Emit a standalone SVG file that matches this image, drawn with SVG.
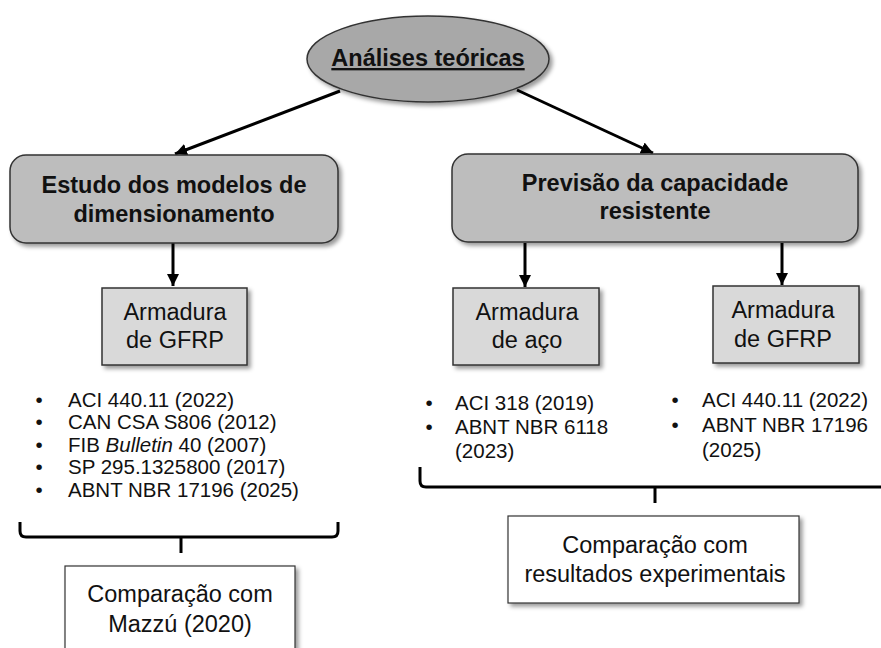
<svg xmlns="http://www.w3.org/2000/svg" width="881" height="648" viewBox="0 0 881 648">
<style>
text{font-family:"Liberation Sans",Arial,sans-serif;fill:#111;text-anchor:middle}
.b{font-weight:bold;font-size:23.5px}
.r{font-size:23.5px}
.l{font-size:20.5px;text-anchor:start}
.bul{font-size:20.5px;text-anchor:middle}
.main{fill:#bdbdbd;stroke:#333;stroke-width:1.5}
.sub{fill:#d9d9d9;stroke:#333;stroke-width:1.5}
.cmp{fill:#fff;stroke:#333;stroke-width:1.2}
.con{stroke:#000;stroke-width:3;fill:none}
</style>
<defs>
<filter id="sh" x="-10%" y="-10%" width="125%" height="130%">
<feDropShadow dx="3" dy="3" stdDeviation="2" flood-color="#000" flood-opacity="0.4"/>
</filter>
<marker id="ah" markerUnits="userSpaceOnUse" markerWidth="14" markerHeight="12" refX="12" refY="6" orient="auto">
<path d="M0,0 L12,6 L0,12 Z" fill="#000"/>
</marker>
</defs>
<rect width="881" height="648" fill="#fff"/>
<g id="connectors">
<line class="con" x1="340" y1="91" x2="175" y2="154" marker-end="url(#ah)"/>
<line class="con" x1="517" y1="90" x2="653" y2="153" marker-end="url(#ah)"/>
<line class="con" x1="173" y1="243" x2="173" y2="286" marker-end="url(#ah)"/>
<line class="con" x1="525" y1="243" x2="525" y2="287" marker-end="url(#ah)"/>
<line class="con" x1="782" y1="243" x2="782" y2="285" marker-end="url(#ah)"/>
<path class="con" d="M20,522 L20,531 Q20,537 26,537 L332,537 Q338,537 338,531 L338,522 M181,537 L181,553"/>
<path class="con" d="M420,467 L420,481 Q420,487 426,487 L881,487 M655,487 L655,503"/>
</g>
<g id="analises">
<ellipse cx="428" cy="59" rx="121" ry="43" fill="#a8a8a8" stroke="#333" stroke-width="1.5" filter="url(#sh)"/>
<text class="b" x="428" y="66" text-decoration="underline">Análises teóricas</text>
</g>
<g id="estudo">
<rect class="main" x="10" y="155" width="328" height="88" rx="16" filter="url(#sh)"/>
<text class="b" x="174" y="193">Estudo dos modelos de</text>
<text class="b" x="174" y="222">dimensionamento</text>
</g>
<g id="previsao">
<rect class="main" x="452" y="154" width="406" height="88" rx="16" filter="url(#sh)"/>
<text class="b" x="655" y="191">Previsão da capacidade</text>
<text class="b" x="655" y="219">resistente</text>
</g>
<g id="gfrp1">
<rect class="sub" x="102" y="288" width="145" height="77" filter="url(#sh)"/>
<text class="r" x="175" y="320">Armadura</text>
<text class="r" x="175" y="348">de GFRP</text>
</g>
<g id="aco">
<rect class="sub" x="453" y="288" width="146" height="77" filter="url(#sh)"/>
<text class="r" x="527" y="320">Armadura</text>
<text class="r" x="527" y="348">de aço</text>
</g>
<g id="gfrp2">
<rect class="sub" x="713" y="286" width="146" height="77" filter="url(#sh)"/>
<text class="r" x="783" y="318">Armadura</text>
<text class="r" x="783" y="347">de GFRP</text>
</g>
<g id="lista1">
<text class="bul" x="39" y="407">•</text><text class="l" x="68" y="407">ACI 440.11 (2022)</text>
<text class="bul" x="39" y="429">•</text><text class="l" x="68" y="429">CAN CSA S806 (2012)</text>
<text class="bul" x="39" y="452">•</text><text class="l" x="68" y="452">FIB <tspan font-style="italic">Bulletin</tspan> 40 (2007)</text>
<text class="bul" x="39" y="474">•</text><text class="l" x="68" y="474">SP 295.1325800 (2017)</text>
<text class="bul" x="39" y="497">•</text><text class="l" x="68" y="497">ABNT NBR 17196 (2025)</text>
</g>
<g id="lista2">
<text class="bul" x="429" y="410">•</text><text class="l" x="455" y="410">ACI 318 (2019)</text>
<text class="bul" x="429" y="434">•</text><text class="l" x="455" y="434">ABNT NBR 6118</text>
<text class="l" x="455" y="458">(2023)</text>
</g>
<g id="lista3">
<text class="bul" x="675" y="407">•</text><text class="l" x="702" y="407">ACI 440.11 (2022)</text>
<text class="bul" x="675" y="432">•</text><text class="l" x="702" y="432">ABNT NBR 17196</text>
<text class="l" x="702" y="457">(2025)</text>
</g>
<g id="mazzu">
<rect class="cmp" x="65" y="566" width="230" height="100" filter="url(#sh)"/>
<text class="r" x="180" y="602">Comparação com</text>
<text class="r" x="180" y="632">Mazzú (2020)</text>
</g>
<g id="experimentais">
<rect class="cmp" x="508" y="516" width="291" height="87" filter="url(#sh)"/>
<text class="r" x="655" y="553">Comparação com</text>
<text class="r" x="655" y="582">resultados experimentais</text>
</g>
</svg>
